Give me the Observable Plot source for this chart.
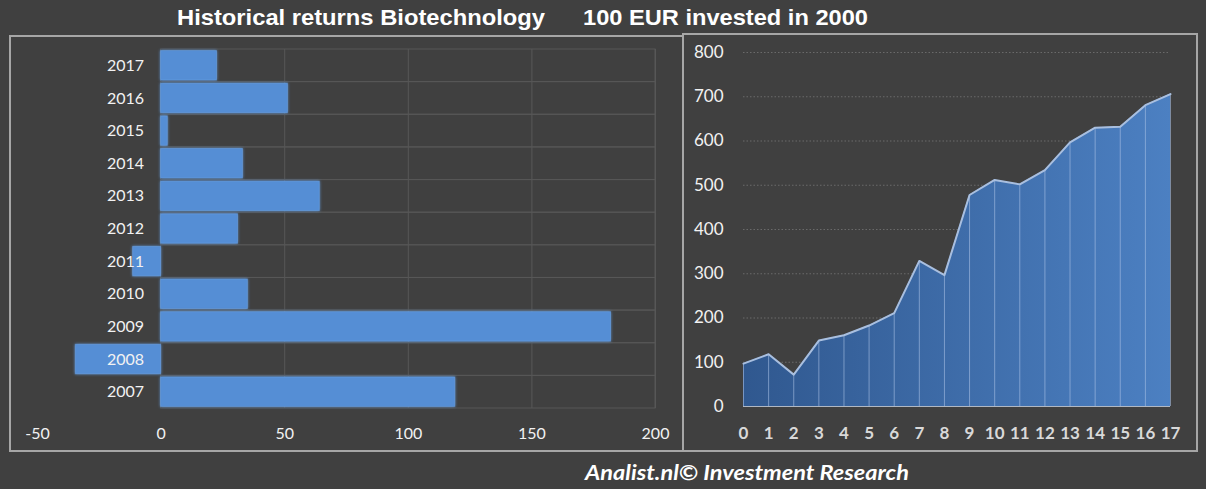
<!DOCTYPE html>
<html><head><meta charset="utf-8">
<script src="https://cdn.jsdelivr.net/npm/d3@7"></script>
<script src="https://cdn.jsdelivr.net/npm/@observablehq/plot@0.6"></script>
<style>
html,body{margin:0;padding:0;background:#404040;}
#wrap{position:relative;width:1206px;height:489px;background:#404040;overflow:hidden;}
#wrap > svg, #wrap > div{position:absolute;}
#wrap > div > svg{display:block;}
#overlay{left:0;top:0;}
#left{left:10px;top:36px;}
#right{left:683px;top:34px;}
.glow rect{filter:drop-shadow(0 0 1.5px rgba(100,160,230,0.9));}
</style>
</head><body>
<div id="wrap">
<svg id="overlay" width="1206" height="489">
  <rect x="10" y="36" width="673" height="415" fill="none" stroke="#a6a6a6" stroke-width="2"/>
  <rect x="683" y="34" width="514" height="417" fill="none" stroke="#a6a6a6" stroke-width="2"/>
  <text x="177" y="25" textLength="368" lengthAdjust="spacingAndGlyphs" fill="#ffffff" font-family="'Liberation Sans', Arial, sans-serif" font-weight="bold" font-size="22">Historical returns Biotechnology</text>
  <text x="583" y="25" textLength="285" lengthAdjust="spacingAndGlyphs" fill="#ffffff" font-family="'Liberation Sans', Arial, sans-serif" font-weight="bold" font-size="22">100 EUR invested in 2000</text>
  <text x="585" y="480" textLength="324" lengthAdjust="spacingAndGlyphs" fill="#ffffff" font-family="Lato, 'Open Sans', sans-serif" font-weight="bold" font-style="italic" font-size="21">Analist.nl© Investment Research</text>
</svg>
<div id="left"></div>
<div id="right"></div>
</div>
<script>
// Left chart: yearly returns (%)
const years = ["2017","2016","2015","2014","2013","2012","2011","2010","2009","2008","2007"];
const returns = [22.6, 51.3, 2.7, 33.1, 64.2, 31.1, -11.3, 35.1, 182, -34.5, 119];
const xTicks = [-50, 0, 50, 100, 150, 200];

// Right chart: value of 100 EUR invested in 2000
const periods = [0,1,2,3,4,5,6,7,8,9,10,11,12,13,14,15,16,17];
const values = [97,118,72,149,161,183,211,329,297,478,512,502,534,597,630,632,681,706];
const yTicks = [0,100,200,300,400,500,600,700,800];

const leftData = years.map((y, i) => ({year: y, ret: returns[i]}));
const rightData = periods.map((p, i) => ({t: p, v: values[i]}));

const left = Plot.plot({
  width: 673, height: 415,
  marginLeft: 27, marginRight: 28, marginTop: 13, marginBottom: 43,
  x: {domain: [-50, 200], label: null},
  y: {domain: years, padding: 0, round: false, axis: null, label: null},
  style: {background: "transparent", color: "#f2f2f2", fontFamily: "Lato, 'Open Sans', sans-serif", fontSize: "16px"},
  marks: [
    Plot.barX(leftData, {y: "year", x1: 0, x2: 200, fill: "none", stroke: "#575757"}),
    Plot.ruleX(xTicks.filter(d => d > 0), {stroke: "#575757"}),
    Plot.barX(leftData, {y: "year", x: "ret", fill: "#558ed5", stroke: "#6ea6ea", strokeOpacity: 0.5, strokeWidth: 1, insetTop: 1.6, insetBottom: 1.6, className: "glow"}),
    Plot.text(leftData, {y: "year", x: 0, text: "year", dx: -17, textAnchor: "end", fill: "#f2f2f2", fontSize: 16}),
    Plot.axisX({ticks: xTicks, tickSize: 0, tickPadding: 19, fontSize: 16, color: "#f2f2f2", label: null, tickFormat: d => String(d)})
  ]
});
document.getElementById("left").appendChild(left);

const right = Plot.plot({
  width: 514, height: 417,
  marginLeft: 60, marginRight: 27, marginTop: 18, marginBottom: 45,
  x: {domain: [0, 17], label: null},
  y: {domain: [0, 800], label: null},
  style: {background: "transparent", color: "#f2f2f2", fontFamily: "Lato, 'Open Sans', sans-serif", fontSize: "17px"},
  marks: [
    Plot.ruleY(yTicks.filter(d => d > 0), {stroke: "#6a6a6a", strokeDasharray: "1.5,2"}),
    Plot.areaY(rightData, {x: "t", y: "v", fill: "url(#areaGrad)"}),
    Plot.ruleX(rightData, {x: "t", y1: 0, y2: "v", stroke: "#a9c0e4", strokeOpacity: 0.6}),
    Plot.lineY(rightData, {x: "t", y: "v", stroke: "#a9bfdf", strokeWidth: 2}),
    Plot.ruleY([0], {stroke: "#b0b8c4"}),
    Plot.axisY({ticks: yTicks, tickSize: 0, tickPadding: 20, fontSize: 17, color: "#f2f2f2", label: null}),
    Plot.axisX({ticks: periods, tickSize: 0, tickPadding: 20, fontSize: 17, fontWeight: "bold", color: "#d9d9d9", label: null})
  ]
});
const defs = d3.select(right).insert("defs", ":first-child");
const grad = defs.append("linearGradient").attr("id", "areaGrad").attr("x1", "0").attr("x2", "1").attr("y1", "0").attr("y2", "0");
grad.append("stop").attr("offset", "0").attr("stop-color", "#30588f");
grad.append("stop").attr("offset", "1").attr("stop-color", "#4c80c2");
document.getElementById("right").appendChild(right);
</script>
</body></html>
